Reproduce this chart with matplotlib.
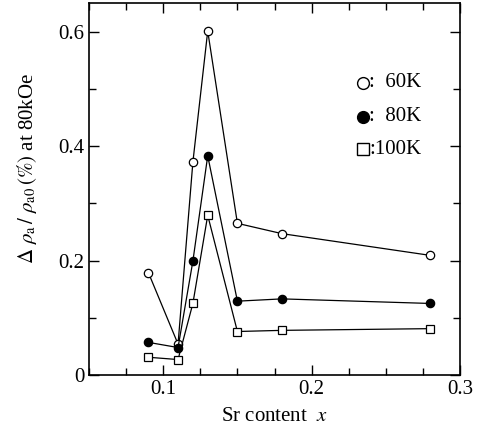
import matplotlib
matplotlib.use("Agg")
import matplotlib.pyplot as plt
from matplotlib.ticker import MultipleLocator

plt.rcParams['font.family'] = ['Liberation Serif', 'DejaVu Serif']
plt.rcParams['mathtext.fontset'] = 'stix'

x = [0.09, 0.11, 0.12, 0.13, 0.15, 0.18, 0.28]
y60 = [0.179, 0.054, 0.372, 0.601, 0.265, 0.247, 0.209]
y80 = [0.057, 0.048, 0.199, 0.383, 0.129, 0.133, 0.125]
y100 = [0.031, 0.027, 0.125, 0.279, 0.076, 0.078, 0.081]
labels = [':  60K', ':  80K', ':100K']

fig = plt.figure(figsize=(4.82, 4.36), dpi=100)
ax = fig.add_axes([89/482, 1-375/436, (460-89)/482, (375-3)/436])

lw = 0.9
ax.plot(x, y60, '-o', color='black', lw=lw, mfc='white', mec='black', ms=6, mew=0.9)
ax.plot(x, y80, '-o', color='black', lw=lw, mfc='black', mec='black', ms=6, mew=0.9)
ax.plot(x, y100, '-s', color='black', lw=lw, mfc='white', mec='black', ms=5.5, mew=0.9)

ax.set_xlim(0.05, 0.3)
ax.set_ylim(0, 0.65)
ax.xaxis.set_major_locator(MultipleLocator(0.1))
ax.xaxis.set_minor_locator(MultipleLocator(0.025))
ax.yaxis.set_major_locator(MultipleLocator(0.2))
ax.yaxis.set_minor_locator(MultipleLocator(0.1))
ax.tick_params(which='both', direction='in', top=True, right=True, labelsize=15, width=1)
ax.tick_params(which='major', length=7)
ax.tick_params(which='minor', length=5)
ax.set_xticks([0.1, 0.2, 0.3])
ax.set_xticklabels(['0.1', '0.2', '0.3'])
ax.set_yticks([0, 0.2, 0.4, 0.6])
ax.set_yticklabels(['0', '0.2', '0.4', '0.6'])
for s in ax.spines.values():
    s.set_linewidth(1.2)

ax.set_xlabel(r'Sr content  $x$', fontsize=15, labelpad=6)
ax.set_ylabel(r'$\Delta\ \rho_{\rm a}\,/\ \rho_{\rm a0}\,(\%)$ at 80kOe', fontsize=15)
ax.yaxis.set_label_coords(-0.135, 0.555)

# legend drawn as marker + text
leg_y = [0.785, 0.694, 0.607]
markers = [('o', 'white', 8.5), ('o', 'black', 8.5), ('s', 'white', 9)]
for (m, fc, ms), ly, lab in zip(markers, leg_y, labels):
    ax.plot([0.738], [ly], marker=m, mfc=fc, mec='black', ms=ms,
            mew=1.0, transform=ax.transAxes, clip_on=False)
    ax.text(0.755, ly, lab, transform=ax.transAxes, fontsize=15, va='center', ha='left')

fig.savefig('out.png', dpi=100)
